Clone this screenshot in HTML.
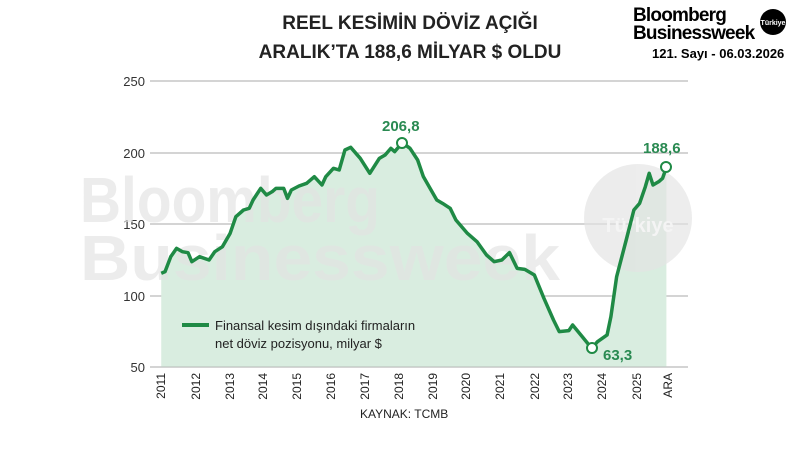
<!DOCTYPE html>
<html><head><meta charset="utf-8"><style>
body{margin:0;background:#fff;}
svg{display:block;font-family:"Liberation Sans",sans-serif;}
</style></head><body>
<svg width="800" height="450" viewBox="0 0 800 450">
<rect width="800" height="450" fill="#fff"/>
<text x="410" y="29" text-anchor="middle" font-size="19" font-weight="bold" fill="#222">REEL KESİMİN DÖVİZ AÇIĞI</text>
<text x="410" y="58" text-anchor="middle" font-size="19" font-weight="bold" fill="#222">ARALIK’TA 188,6 MİLYAR $ OLDU</text>
<text x="633" y="21" font-size="19" font-weight="bold" fill="#000" letter-spacing="-0.8">Bloomberg</text>
<text x="633" y="39" font-size="19" font-weight="bold" fill="#000" letter-spacing="-0.8">Businessweek</text>
<circle cx="773" cy="22" r="13" fill="#000"/>
<text x="773" y="25" text-anchor="middle" font-size="7" font-weight="bold" fill="#fff">Türkiye</text>
<text x="652" y="58" font-size="13" font-weight="bold" fill="#000">121. Sayı - 06.03.2026</text>

<g stroke="#aaa" stroke-width="1">
<line x1="150" y1="81" x2="688" y2="81"/><line x1="150" y1="153" x2="688" y2="153"/>
<line x1="150" y1="224" x2="688" y2="224"/><line x1="150" y1="296" x2="688" y2="296"/>
<line x1="150" y1="367" x2="688" y2="367"/>
</g>
<g font-size="13" fill="#333" text-anchor="end">
<text x="145" y="86">250</text><text x="145" y="158">200</text><text x="145" y="229">150</text><text x="145" y="301">100</text><text x="145" y="372">50</text>
</g>
<g transform="translate(100,60) scale(0.3827,0.33333)">
<path fill="#d9ede0" d="M160,920 L160,640 L170,635 L185,590 L200,565 L215,575 L230,578 L240,605 L260,590 L285,600 L300,575 L320,560 L340,520 L355,470 L375,450 L390,445 L400,420 L420,385 L435,405 L450,395 L460,385 L480,385 L490,415 L500,390 L520,378 L540,370 L560,350 L580,375 L590,350 L610,325 L625,330 L640,270 L655,262 L680,295 L705,340 L730,295 L745,285 L760,265 L770,275 L790,248 L810,265 L830,300 L845,350 L865,390 L880,420 L895,430 L915,445 L930,480 L960,520 L985,545 L1010,585 L1030,605 L1050,600 L1070,578 L1090,625 L1110,628 L1135,645 L1160,715 L1185,780 L1200,815 L1225,812 L1235,795 L1260,830 L1285,865 L1300,845 L1325,825 L1335,770 L1350,650 L1375,540 L1395,450 L1410,430 L1425,380 L1435,340 L1445,375 L1460,365 L1470,355 L1480,322 L1480,920 Z"/>
</g>
<g fill="#e3e3e3" font-weight="bold" font-size="64" opacity="0.65">
<text x="80" y="222" textLength="300" lengthAdjust="spacingAndGlyphs">Bloomberg</text>
<text x="80" y="280" textLength="480" lengthAdjust="spacingAndGlyphs">Businessweek</text>
<circle cx="638" cy="218" r="54"/>
</g>
<text x="638" y="232" text-anchor="middle" font-size="20" font-weight="bold" fill="#f4f4f4">Türkiye</text>
<g transform="translate(100,60) scale(0.3827,0.33333)">
<path fill="none" stroke="#1f8a45" stroke-width="3.5" vector-effect="non-scaling-stroke" stroke-linejoin="round" d="M160,640 L170,635 L185,590 L200,565 L215,575 L230,578 L240,605 L260,590 L285,600 L300,575 L320,560 L340,520 L355,470 L375,450 L390,445 L400,420 L420,385 L435,405 L450,395 L460,385 L480,385 L490,415 L500,390 L520,378 L540,370 L560,350 L580,375 L590,350 L610,325 L625,330 L640,270 L655,262 L680,295 L705,340 L730,295 L745,285 L760,265 L770,275 L790,248 L810,265 L830,300 L845,350 L865,390 L880,420 L895,430 L915,445 L930,480 L960,520 L985,545 L1010,585 L1030,605 L1050,600 L1070,578 L1090,625 L1110,628 L1135,645 L1160,715 L1185,780 L1200,815 L1225,812 L1235,795 L1260,830 L1285,865 L1300,845 L1325,825 L1335,770 L1350,650 L1375,540 L1395,450 L1410,430 L1425,380 L1435,340 L1445,375 L1460,365 L1470,355 L1480,322"/>
</g>
<g fill="#fff" stroke="#1f8a45" stroke-width="2">
<circle cx="402" cy="143" r="5"/><circle cx="592" cy="348" r="5"/><circle cx="666" cy="167" r="5"/>
</g>
<g fill="#2a8a52" font-size="15" font-weight="bold">
<text x="382" y="131">206,8</text><text x="603" y="360">63,3</text><text x="643" y="153">188,6</text>
</g>
<line x1="182" y1="325" x2="209" y2="325" stroke="#1f8a45" stroke-width="4"/>
<text x="215" y="330" font-size="13" fill="#222">Finansal kesim dışındaki firmaların</text>
<text x="215" y="348" font-size="13" fill="#222">net döviz pozisyonu, milyar $</text>
<g font-size="12" fill="#222" text-anchor="end">
<text transform="translate(165,373) rotate(-90)">2011</text>
<text transform="translate(200,373) rotate(-90)">2012</text>
<text transform="translate(234,373) rotate(-90)">2013</text>
<text transform="translate(267,373) rotate(-90)">2014</text>
<text transform="translate(301,373) rotate(-90)">2015</text>
<text transform="translate(335,373) rotate(-90)">2016</text>
<text transform="translate(369,373) rotate(-90)">2017</text>
<text transform="translate(403,373) rotate(-90)">2018</text>
<text transform="translate(437,373) rotate(-90)">2019</text>
<text transform="translate(470,373) rotate(-90)">2020</text>
<text transform="translate(504,373) rotate(-90)">2021</text>
<text transform="translate(539,373) rotate(-90)">2022</text>
<text transform="translate(572,373) rotate(-90)">2023</text>
<text transform="translate(606,373) rotate(-90)">2024</text>
<text transform="translate(641,373) rotate(-90)">2025</text>
<text transform="translate(672,373) rotate(-90)">ARA</text>
</g>
<text x="360" y="418" font-size="12" fill="#222">KAYNAK: TCMB</text>
</svg>
</body></html>
